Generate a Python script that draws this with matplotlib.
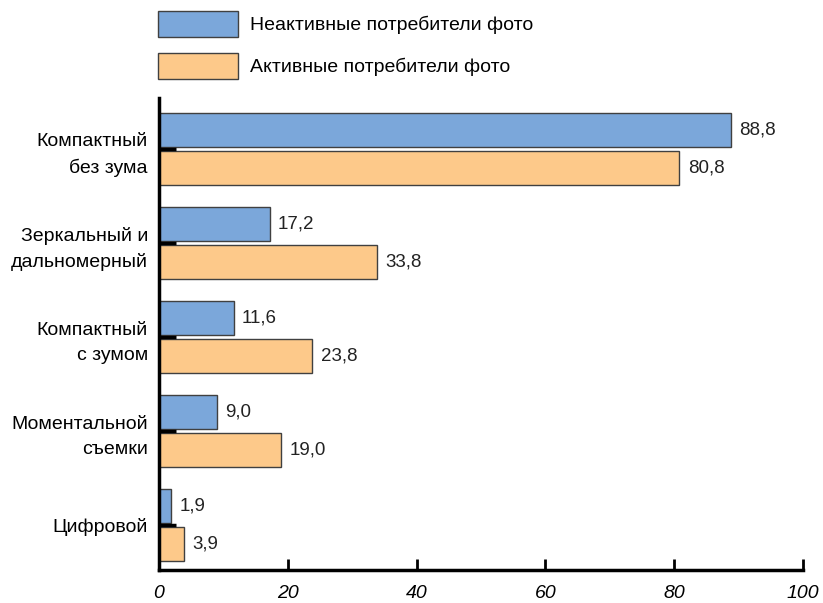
import matplotlib
matplotlib.use("Agg")
import matplotlib.pyplot as plt
from matplotlib.transforms import ScaledTranslation
import numpy as np

plt.rcParams['font.family'] = ['Liberation Sans', 'DejaVu Sans']

categories = ["Компактный\nбез зума", "Зеркальный и\nдальномерный", "Компактный\nс зумом",
              "Моментальной\nсъемки", "Цифровой"]
inactive = [88.8, 17.2, 11.6, 9.0, 1.9]
active = [80.8, 33.8, 23.8, 19.0, 3.9]
series_names = ["Неактивные потребители фото", "Активные потребители фото"]
xticks = [0, 20, 40, 60, 80, 100]

fig = plt.figure(figsize=(8.23, 6.03), dpi=100)
ax = fig.add_axes([159/823, 1-570/603, (803-159)/823, (570-98)/603])

y = np.arange(len(categories))
h = 0.36
gap = 0.02
b1 = ax.barh(y - h/2 - gap, inactive, height=h, color='#7BA7DA', edgecolor='#404040', linewidth=1, label=series_names[0])
b2 = ax.barh(y + h/2 + gap, active, height=h, color='#FDC98A', edgecolor='#404040', linewidth=1, label=series_names[1])

def fmt(v):
    return f"{v:.1f}".replace('.', ',')

for bars, vals in ((b1, inactive), (b2, active)):
    for rect, v in zip(bars, vals):
        ax.annotate(fmt(v), (v, rect.get_y() + rect.get_height()/2), xytext=(6, 0),
                    textcoords='offset points', va='center', ha='left', fontsize=13.5, color='#222222')

ax.set_xlim(0, 100)
ax.set_ylim(4.48, -0.544)
ax.set_yticks(y)
ax.set_yticklabels(categories, fontsize=14, ha='right', ma='right', linespacing=1.6)
for lbl in ax.get_yticklabels():
    lbl.set_transform(lbl.get_transform() + ScaledTranslation(0, -3/100, fig.dpi_scale_trans))
ax.set_xticks(xticks)
ax.set_xticklabels([str(t) for t in xticks], fontsize=14, style='italic')
ax.tick_params(axis='y', direction='in', length=12, width=2.5, pad=8, color='black')
ax.tick_params(axis='x', direction='in', length=8, width=2, pad=11, color='black')
for s in ('top', 'right'):
    ax.spines[s].set_visible(False)
for s in ('left', 'bottom'):
    ax.spines[s].set_linewidth(2.5)
    ax.spines[s].set_zorder(5)

fig.legend(handles=[b1, b2], labels=series_names, loc='upper left',
           bbox_to_anchor=(158/823, 1-11/603), bbox_transform=fig.transFigure,
           frameon=False, fontsize=14, borderpad=0, borderaxespad=0,
           handlelength=4.1, handleheight=1.68, labelspacing=0.82, handletextpad=0.62)

fig.savefig('out.png', dpi=100)
